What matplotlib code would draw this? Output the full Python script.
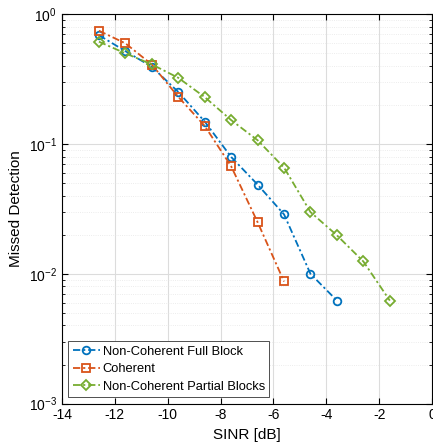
import matplotlib.pyplot as plt
import numpy as np

plt.rcParams["font.family"] = ["Liberation Sans", "DejaVu Sans"]

SINR_FULL = [-12.6, -11.6, -10.6, -9.6, -8.6, -7.6, -6.6, -5.6, -4.6, -3.6]
MD_FULL = [0.69, 0.52, 0.394, 0.252, 0.149, 0.0795, 0.0487, 0.0287, 0.0100, 0.00622]

SINR_COH = [-12.6, -11.6, -10.6, -9.6, -8.6, -7.6, -6.6, -5.6]
MD_COH = [0.747, 0.597, 0.41, 0.231, 0.138, 0.0674, 0.0250, 0.00873]

SINR_PART = [-12.6, -11.6, -10.6, -9.6, -8.6, -7.6, -6.6, -5.6, -4.6, -3.6, -2.6, -1.6]
MD_PART = [0.615, 0.50, 0.411, 0.324, 0.23, 0.153, 0.107, 0.0659, 0.0299, 0.0198, 0.01245, 0.00622]

LABELS = ["Non-Coherent Full Block", "Coherent", "Non-Coherent Partial Blocks"]
COLORS = ["#0072BD", "#D95319", "#77AC30"]
MARKERS = ["o", "s", "D"]

fig = plt.figure(figsize=(4.33, 4.46), dpi=100)
ax = fig.add_axes([0.143, 0.095, 0.855, 0.873])

series = [(SINR_FULL, MD_FULL), (SINR_COH, MD_COH), (SINR_PART, MD_PART)]
for (x, y), label, color, marker in zip(series, LABELS, COLORS, MARKERS):
    ax.plot(x, y, linestyle=(0, (4, 1.6, 1.2, 1.6)), color=color, marker=marker,
            markersize=5.5 if marker != "D" else 5,
            markerfacecolor="none", markeredgewidth=1.3, linewidth=1.3, label=label)

ax.set_yscale("log")
ax.set_xlim(-14, 0)
ax.set_ylim(1e-3, 1)
ax.set_xticks(np.arange(-14, 1, 2))
ax.set_xticklabels([str(v) for v in range(-14, 1, 2)])

ax.grid(which="major", color="#dcdcdc", linewidth=0.8, linestyle="-")
ax.grid(which="minor", axis="y", color="#e6e6e6", linewidth=0.6, linestyle=":")
ax.set_axisbelow(True)
ax.tick_params(which="both", direction="in", top=True, right=True, labelsize=10)
ax.tick_params(which="major", length=4)
ax.tick_params(which="minor", length=2)
for s in ax.spines.values():
    s.set_linewidth(0.8)

ax.set_xlabel("SINR [dB]", fontsize=11)
ax.set_ylabel("Missed Detection", fontsize=11)

leg = ax.legend(loc="lower left", fontsize=9.3, handlelength=2.1, handletextpad=0.2,
                borderpad=0.35, labelspacing=0.42, fancybox=False, framealpha=1,
                bbox_to_anchor=(0.0, 0.0), borderaxespad=0.5)
leg.get_frame().set_edgecolor("#333333")
leg.get_frame().set_linewidth(0.6)

fig.savefig("out.png", dpi=100)
